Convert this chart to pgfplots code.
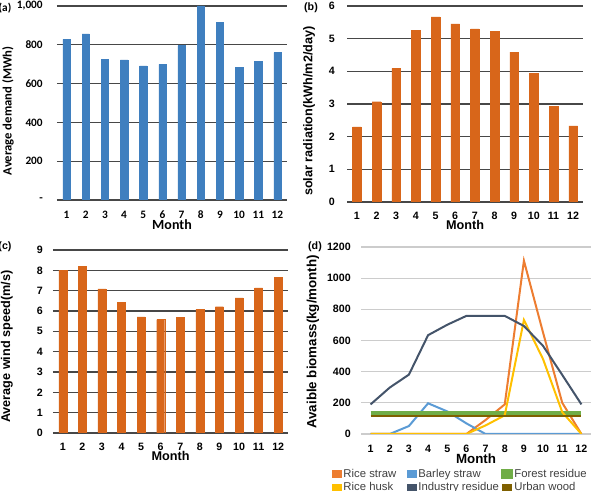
\documentclass[border=0pt]{standalone}
\usepackage{fontspec}
\setmainfont{Liberation Sans}
\newfontfamily\calibri{Carlito}
\usepackage{pgfplots}
\pgfplotsset{compat=1.18}
\definecolor{cblue}{HTML}{5B9BD5}
\definecolor{cblueE}{HTML}{3F7FBF}
\definecolor{cblueH}{HTML}{9CC3EA}
\definecolor{corange}{HTML}{ED7D31}
\definecolor{corangeE}{HTML}{D8661A}
\definecolor{corangeH}{HTML}{F9A86A}
\definecolor{cyellow}{HTML}{FFC000}
\definecolor{cdark}{HTML}{44546A}
\definecolor{cgreen}{HTML}{70AD47}
\definecolor{cbrown}{HTML}{7F6000}
\definecolor{legendgray}{HTML}{404040}
\newcommand{\labfont}{\bfseries\fontsize{9.5}{11}\selectfont}
\pgfplotsset{
  barpanel/.style={
    scale only axis, anchor=south west,
    xmin=0.5, xmax=12.5, ymin=0,
    axis line style={draw=none},
    major tick length=0pt,
    xtick={1,...,12},
    ymajorgrids,
    major grid style={black!72, line width=0.9pt},
    /pgf/number format/assume math mode=true,
    tick label style={font=\bfseries\fontsize{8}{9}\selectfont},
    yticklabel style={anchor=east, inner sep=0pt},
  },
}
\begin{document}
\begin{tikzpicture}
\useasboundingbox (0pt,0pt) rectangle (444pt,368.25pt);

% (a)
\begin{axis}[barpanel, at={(42.75pt,218.25pt)}, width=172.5pt, height=145.5pt,
  ymax=1000, ytick={0,200,400,600,800,1000},
  yticklabels={-,200,400,600,800,{1,000}},
  tick label style={font=\calibri\bfseries\fontsize{8.5}{9}\selectfont},
  xticklabel style={anchor=center, yshift=-11pt},
  yticklabel style={xshift=-10.5pt},
  every axis x label/.style={at={(axis description cs:0.5,0)}, anchor=center, yshift=-18.75pt, font=\calibri\bfseries\fontsize{10.5}{12}\selectfont},
  every axis y label/.style={at={(axis description cs:0,0.5)}, rotate=90, anchor=center, yshift=36.75pt, xshift=-6pt, font=\calibri\bfseries\fontsize{9.5}{11}\selectfont},
  xlabel={Month}, ylabel={Average demand (MWh)}]
\addplot[ybar, bar width=5.5pt, draw=cblueE, line width=0.3pt, left color=cblueE, middle color=cblueH, right color=cblueE]
  coordinates {(1,828) (2,856) (3,725) (4,722) (5,691) (6,699) (7,796) (8,1000) (9,916) (10,684) (11,715) (12,760)};
\end{axis}

% (b)
\begin{axis}[barpanel, at={(260.25pt,216.75pt)}, width=177pt, height=147pt,
  ymax=6, ytick={0,1,...,6},
  xticklabel style={anchor=center, yshift=-10.5pt},
  yticklabel style={xshift=-9pt},
  every axis y label/.style={at={(axis description cs:0,0.5)}, rotate=90, anchor=center, yshift=28.5pt, xshift=-5.25pt, font=\labfont},
  every axis x label/.style={at={(axis description cs:0.5,0)}, anchor=center, yshift=-17.5pt, font=\labfont},
  xlabel={Month}, ylabel={solar radiation(kWh/m2/day)}]
\addplot[ybar, bar width=6.5pt, draw=corangeE, line width=0.3pt, left color=corangeE, middle color=corangeH, right color=corangeE]
  coordinates {(1,2.30) (2,3.07) (3,4.09) (4,5.26) (5,5.67) (6,5.45) (7,5.30) (8,5.23) (9,4.59) (10,3.94) (11,2.92) (12,2.33)};
\end{axis}

% (c)
\begin{axis}[barpanel, at={(39.75pt,43.5pt)}, width=176.25pt, height=137.25pt,
  ymax=9, ytick={0,1,...,9},
  xticklabel style={anchor=center, yshift=-10.5pt},
  yticklabel style={xshift=-7.5pt},
  every axis y label/.style={at={(axis description cs:0,0.5)}, rotate=90, anchor=center, yshift=34.5pt, xshift=-4pt, font=\labfont},
  every axis x label/.style={at={(axis description cs:0.5,0)}, anchor=center, yshift=-17.5pt, font=\labfont},
  xlabel={Month}, ylabel={Average wind speed(m/s)}]
\addplot[ybar, bar width=6pt, draw=corangeE, line width=0.3pt, left color=corangeE, middle color=corangeH, right color=corangeE]
  coordinates {(1,8.01) (2,8.18) (3,7.09) (4,6.44) (5,5.71) (6,5.58) (7,5.68) (8,6.08) (9,6.21) (10,6.65) (11,7.14) (12,7.65)};
\end{axis}

% (d)
\begin{axis}[scale only axis, anchor=south west, at={(270.75pt,42.75pt)}, width=172.5pt, height=140.25pt,
  xmin=0.5, xmax=12.5, ymin=0, ymax=1200,
  ytick={0,200,...,1200}, xtick={1,...,12},
  axis line style={draw=none},
  major tick length=0pt,
  ymajorgrids,
  major grid style={black!20, line width=0.8pt},
  extra y ticks={0}, extra y tick labels={},
  extra y tick style={grid style={black!45, line width=0.9pt}},
  /pgf/number format/assume math mode=true,
  /pgf/number format/1000 sep={},
  tick label style={font=\bfseries\fontsize{8}{9}\selectfont},
  xticklabel style={anchor=center, yshift=-11.25pt},
  yticklabel style={anchor=east, inner sep=0pt, xshift=-7.5pt},
  every axis x label/.style={at={(axis description cs:0.5,0)}, anchor=center, yshift=-18.75pt, font=\bfseries\fontsize{10}{12}\selectfont},
  every axis y label/.style={at={(axis description cs:0,0.5)}, rotate=90, anchor=center, yshift=36pt, xshift=-1pt, font=\bfseries\fontsize{10}{12}\selectfont},
  xlabel={Month}, ylabel={Avaible biomass(kg/month)},
  legend columns=3,
  legend style={at={(axis description cs:-0.144,-0.165)}, anchor=north west, draw=none, fill=none,
    font=\fontsize{8.5}{9}\selectfont\color{legendgray},
    nodes={inner sep=1pt, anchor=west},
    row sep=0.5pt,
    /tikz/column 2/.append style={column sep=7pt},
    /tikz/column 4/.append style={column sep=0.5pt}},
  legend image code/.code={\fill (0pt,-2.2pt) rectangle (6pt,2.2pt);},
  every axis plot/.append style={line width=1.5pt, mark=none}]
\addplot[color=corange] coordinates {(1,0) (2,0) (3,0) (4,0) (5,0) (6,0) (7,90) (8,190) (9,1112) (10,650) (11,200) (12,0)};
\addlegendentry{Rice straw}
\addplot[color=cblue] coordinates {(1,0) (2,0) (3,51) (4,197) (5,145) (6,68) (7,0) (8,0) (9,0) (10,0) (11,0) (12,0)};
\addlegendentry{Barley straw}
\addplot[color=cgreen, line width=3pt] coordinates {(1,135) (2,135) (3,135) (4,135) (5,135) (6,135) (7,135) (8,135) (9,135) (10,135) (11,135) (12,135)};
\addlegendentry{Forest residue}
\addplot[color=cyellow] coordinates {(1,0) (2,0) (3,0) (4,0) (5,0) (6,0) (7,55) (8,120) (9,732) (10,480) (11,140) (12,0)};
\addlegendentry{Rice husk}
\addplot[color=cdark] coordinates {(1,190) (2,298) (3,381) (4,634) (5,701) (6,758) (7,758) (8,758) (9,693) (10,565) (11,379) (12,190)};
\addlegendentry{Industry residue}
\addplot[color=cbrown] coordinates {(1,118) (2,118) (3,118) (4,118) (5,118) (6,118) (7,118) (8,118) (9,118) (10,118) (11,118) (12,118)};
\addlegendentry{Urban wood}
\end{axis}

\node[font=\calibri\bfseries\fontsize{8.5}{9}\selectfont] at (3.75pt,362.25pt) {(a)};
\node[font=\bfseries\fontsize{8}{9}\selectfont] at (233.25pt,362.25pt) {(b)};
\node[font=\bfseries\fontsize{8}{9}\selectfont] at (3.75pt,183pt) {(c)};
\node[font=\bfseries\fontsize{8}{9}\selectfont] at (236.25pt,183pt) {(d)};
\end{tikzpicture}
\end{document}
